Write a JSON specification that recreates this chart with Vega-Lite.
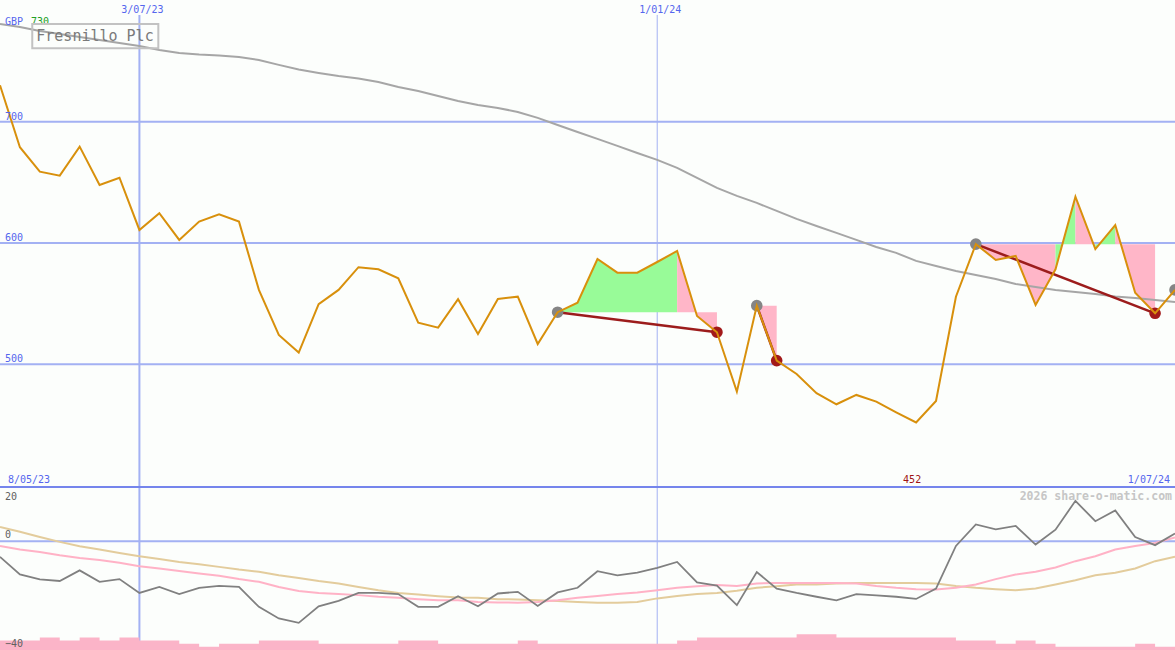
{
  "$schema": "https://vega.github.io/schema/vega-lite/v6.json",
  "background": "#fcfefc",
  "padding": 0,
  "spacing": 0,
  "bounds": "flush",
  "config": {"view": {"stroke": null}, "text": {"font": "DejaVu Sans Mono"}},
  "datasets": {
    "weeks": [
      {"week":0,"close":730,"ma":780.5,"osc":-5.7,"oscFast":-1.7,"oscSlow":5.3,"vol":3},
      {"week":1,"close":678.9,"ma":778.0,"osc":-12.2,"oscFast":-3.0,"oscSlow":3.5,"vol":3},
      {"week":2,"close":658.8,"ma":774.7,"osc":-14.0,"oscFast":-3.9,"oscSlow":1.6,"vol":4},
      {"week":3,"close":655.5,"ma":772.3,"osc":-14.6,"oscFast":-5.1,"oscSlow":-0.2,"vol":3},
      {"week":4,"close":679.4,"ma":769.8,"osc":-10.7,"oscFast":-6.1,"oscSlow":-1.8,"vol":4},
      {"week":5,"close":647.8,"ma":767.4,"osc":-14.9,"oscFast":-6.9,"oscSlow":-3.0,"vol":3},
      {"week":6,"close":653.8,"ma":764.9,"osc":-13.9,"oscFast":-7.9,"oscSlow":-4.3,"vol":4},
      {"week":7,"close":610.7,"ma":762.4,"osc":-19.0,"oscFast":-9.2,"oscSlow":-5.5,"vol":3},
      {"week":8,"close":624.5,"ma":759.1,"osc":-16.8,"oscFast":-10.0,"oscSlow":-6.5,"vol":3},
      {"week":9,"close":602.5,"ma":756.6,"osc":-19.4,"oscFast":-10.9,"oscSlow":-7.6,"vol":2},
      {"week":10,"close":617.6,"ma":755.4,"osc":-17.1,"oscFast":-11.8,"oscSlow":-8.4,"vol":1},
      {"week":11,"close":623.7,"ma":754.6,"osc":-16.4,"oscFast":-12.7,"oscSlow":-9.4,"vol":2},
      {"week":12,"close":617.6,"ma":753.3,"osc":-16.8,"oscFast":-13.9,"oscSlow":-10.4,"vol":2},
      {"week":13,"close":561.3,"ma":750.9,"osc":-24.1,"oscFast":-14.9,"oscSlow":-11.2,"vol":3},
      {"week":14,"close":524.2,"ma":746.8,"osc":-28.4,"oscFast":-16.8,"oscSlow":-12.5,"vol":3},
      {"week":15,"close":509.6,"ma":743.0,"osc":-30.0,"oscFast":-18.3,"oscSlow":-13.5,"vol":3},
      {"week":16,"close":549.5,"ma":740.2,"osc":-23.9,"oscFast":-19.0,"oscSlow":-14.6,"vol":2},
      {"week":17,"close":561.3,"ma":737.7,"osc":-21.9,"oscFast":-19.4,"oscSlow":-15.5,"vol":2},
      {"week":18,"close":580.0,"ma":735.6,"osc":-19.0,"oscFast":-19.8,"oscSlow":-16.8,"vol":2},
      {"week":19,"close":578.3,"ma":732.7,"osc":-19.0,"oscFast":-20.4,"oscSlow":-18.0,"vol":2},
      {"week":20,"close":570.9,"ma":728.6,"osc":-19.4,"oscFast":-20.8,"oscSlow":-19.0,"vol":3},
      {"week":21,"close":534.3,"ma":725.3,"osc":-24.1,"oscFast":-21.3,"oscSlow":-19.6,"vol":3},
      {"week":22,"close":530.2,"ma":721.2,"osc":-24.1,"oscFast":-21.7,"oscSlow":-20.2,"vol":2},
      {"week":23,"close":553.6,"ma":717.1,"osc":-20.2,"oscFast":-21.7,"oscSlow":-20.7,"vol":2},
      {"week":24,"close":525.0,"ma":713.8,"osc":-23.9,"oscFast":-22.3,"oscSlow":-20.8,"vol":2},
      {"week":25,"close":553.8,"ma":711.3,"osc":-19.2,"oscFast":-22.5,"oscSlow":-21.3,"vol":2},
      {"week":26,"close":555.7,"ma":708.0,"osc":-18.6,"oscFast":-22.6,"oscSlow":-21.4,"vol":3},
      {"week":27,"close":516.7,"ma":703.1,"osc":-23.8,"oscFast":-22.3,"oscSlow":-21.7,"vol":2},
      {"week":28,"close":542.9,"ma":697.3,"osc":-18.8,"oscFast":-21.7,"oscSlow":-22.0,"vol":2},
      {"week":29,"close":550.8,"ma":691.5,"osc":-17.1,"oscFast":-20.8,"oscSlow":-22.3,"vol":2},
      {"week":30,"close":586.8,"ma":685.8,"osc":-11.0,"oscFast":-20.1,"oscSlow":-22.6,"vol":2},
      {"week":31,"close":575.5,"ma":680.0,"osc":-12.5,"oscFast":-19.4,"oscSlow":-22.6,"vol":2},
      {"week":32,"close":575.5,"ma":674.2,"osc":-11.5,"oscFast":-18.8,"oscSlow":-22.3,"vol":2},
      {"week":33,"close":584.3,"ma":668.5,"osc":-9.8,"oscFast":-18.0,"oscSlow":-21.0,"vol":2},
      {"week":34,"close":593.4,"ma":661.9,"osc":-7.6,"oscFast":-17.1,"oscSlow":-20.1,"vol":3},
      {"week":35,"close":539.8,"ma":653.6,"osc":-15.1,"oscFast":-16.5,"oscSlow":-19.4,"vol":4},
      {"week":36,"close":526.4,"ma":645.4,"osc":-16.3,"oscFast":-16.1,"oscSlow":-19.0,"vol":4},
      {"week":37,"close":477.4,"ma":638.8,"osc":-23.5,"oscFast":-16.4,"oscSlow":-18.2,"vol":4},
      {"week":38,"close":548.3,"ma":633.0,"osc":-11.3,"oscFast":-15.5,"oscSlow":-17.1,"vol":4},
      {"week":39,"close":503.0,"ma":626.4,"osc":-17.4,"oscFast":-15.3,"oscSlow":-16.5,"vol":4},
      {"week":40,"close":492.0,"ma":619.8,"osc":-19.0,"oscFast":-15.3,"oscSlow":-15.9,"vol":5},
      {"week":41,"close":476.1,"ma":614.0,"osc":-20.4,"oscFast":-15.3,"oscSlow":-15.9,"vol":5},
      {"week":42,"close":467.0,"ma":608.3,"osc":-21.7,"oscFast":-15.3,"oscSlow":-15.5,"vol":4},
      {"week":43,"close":474.7,"ma":602.5,"osc":-19.4,"oscFast":-15.5,"oscSlow":-15.3,"vol":4},
      {"week":44,"close":469.2,"ma":596.7,"osc":-19.9,"oscFast":-16.4,"oscSlow":-15.3,"vol":4},
      {"week":45,"close":460.4,"ma":591.8,"osc":-20.4,"oscFast":-17.1,"oscSlow":-15.3,"vol":4},
      {"week":46,"close":452.0,"ma":585.2,"osc":-21.2,"oscFast":-17.6,"oscSlow":-15.3,"vol":4},
      {"week":47,"close":469.7,"ma":581.0,"osc":-17.4,"oscFast":-17.7,"oscSlow":-15.5,"vol":4},
      {"week":48,"close":555.7,"ma":576.9,"osc":-1.7,"oscFast":-17.1,"oscSlow":-16.4,"vol":3},
      {"week":49,"close":599.0,"ma":573.6,"osc":6.2,"oscFast":-15.9,"oscSlow":-17.1,"vol":3},
      {"week":50,"close":586.0,"ma":570.3,"osc":4.4,"oscFast":-13.9,"oscSlow":-17.6,"vol":2},
      {"week":51,"close":589.3,"ma":566.2,"osc":5.7,"oscFast":-12.2,"oscSlow":-18.0,"vol":3},
      {"week":52,"close":548.9,"ma":563.7,"osc":-1.2,"oscFast":-11.2,"oscSlow":-17.4,"vol":2},
      {"week":53,"close":578.3,"ma":561.3,"osc":4.3,"oscFast":-9.6,"oscSlow":-15.9,"vol":1},
      {"week":54,"close":638.2,"ma":559.6,"osc":14.9,"oscFast":-7.3,"oscSlow":-14.3,"vol":1},
      {"week":55,"close":595.0,"ma":558.0,"osc":7.4,"oscFast":-5.5,"oscSlow":-12.5,"vol":1},
      {"week":56,"close":614.8,"ma":555.9,"osc":11.4,"oscFast":-3.0,"oscSlow":-11.6,"vol":1},
      {"week":57,"close":559.0,"ma":554.7,"osc":1.6,"oscFast":-1.7,"oscSlow":-10.0,"vol":2},
      {"week":58,"close":542.0,"ma":553.0,"osc":-1.4,"oscFast":-0.6,"oscSlow":-7.3,"vol":1},
      {"week":59,"close":561.3,"ma":551.4,"osc":2.9,"oscFast":1.4,"oscSlow":-5.7,"vol":1}
    ],
    "priceGrid": [{"level":500},{"level":600},{"level":700}],
    "dateMarks": [{"week":7,"label":"3/07/23","kind":"half"},{"week":33,"label":"1/01/24","kind":"year"}],
    "fills": [
      {"grp":"t1a","kind":"gain","week":28,"close":542.9,"entry":542.9},
      {"grp":"t1a","kind":"gain","week":29,"close":550.8,"entry":542.9},
      {"grp":"t1a","kind":"gain","week":30,"close":586.8,"entry":542.9},
      {"grp":"t1a","kind":"gain","week":31,"close":575.5,"entry":542.9},
      {"grp":"t1a","kind":"gain","week":32,"close":575.5,"entry":542.9},
      {"grp":"t1a","kind":"gain","week":33,"close":584.3,"entry":542.9},
      {"grp":"t1a","kind":"gain","week":34,"close":593.4,"entry":542.9},
      {"grp":"t1b","kind":"loss","week":34,"close":593.4,"entry":542.9},
      {"grp":"t1b","kind":"loss","week":35,"close":539.8,"entry":542.9},
      {"grp":"t1b","kind":"loss","week":36,"close":526.4,"entry":542.9},
      {"grp":"t2a","kind":"loss","week":38,"close":548.3,"entry":548.3},
      {"grp":"t2a","kind":"loss","week":39,"close":503.0,"entry":548.3},
      {"grp":"t3a","kind":"loss","week":49,"close":599.0,"entry":599},
      {"grp":"t3a","kind":"loss","week":50,"close":586.0,"entry":599},
      {"grp":"t3a","kind":"loss","week":51,"close":589.3,"entry":599},
      {"grp":"t3a","kind":"loss","week":52,"close":548.9,"entry":599},
      {"grp":"t3a","kind":"loss","week":53,"close":578.3,"entry":599},
      {"grp":"t3b","kind":"gain","week":53,"close":578.3,"entry":599},
      {"grp":"t3b","kind":"gain","week":54,"close":638.2,"entry":599},
      {"grp":"t3c","kind":"loss","week":54,"close":638.2,"entry":599},
      {"grp":"t3c","kind":"loss","week":55,"close":595.0,"entry":599},
      {"grp":"t3d","kind":"gain","week":55,"close":595.0,"entry":599},
      {"grp":"t3d","kind":"gain","week":56,"close":614.8,"entry":599},
      {"grp":"t3e","kind":"loss","week":56,"close":614.8,"entry":599},
      {"grp":"t3e","kind":"loss","week":57,"close":559.0,"entry":599},
      {"grp":"t3e","kind":"loss","week":58,"close":542.0,"entry":599}
    ],
    "signals": [
      {"trade":1,"week":28,"price":542.9,"side":"buy"},
      {"trade":1,"week":36,"price":526.4,"side":"sell"},
      {"trade":2,"week":38,"price":548.3,"side":"buy"},
      {"trade":2,"week":39,"price":503.0,"side":"sell"},
      {"trade":3,"week":49,"price":599.0,"side":"buy"},
      {"trade":3,"week":58,"price":542.0,"side":"sell"},
      {"trade":4,"week":59,"price":561.3,"side":"buy"}
    ],
    "oscGrid": [{"level":0},{"level":-40}],
    "priceNotes": [
      {"note":"from","text":"8/05/23"},
      {"note":"low","text":"452"},
      {"note":"to","text":"1/07/24"},
      {"note":"ccy","text":"GBP"},
      {"note":"high","text":"730"},
      {"note":"name","text":"Fresnillo Plc"}
    ]
  },
  "vconcat": [
    {
      "width": 1175,
      "height": 487,
      "resolve": {"scale": {"color": "independent"}},
      "layer": [
        {
          "data": {"name": "priceGrid"},
          "mark": {"type": "rule", "color": "#a3b1f3", "strokeWidth": 2, "clip": true},
          "encoding": {
            "y": {"field": "level", "type": "quantitative", "scale": {"domain": [398.8, 800.3], "nice": false, "zero": false}, "axis": null}
          }
        },
        {
          "data": {"name": "dateMarks"},
          "mark": {"type": "rule", "color": "#a3b1f3", "clip": true},
          "encoding": {
            "x": {"field": "week", "type": "quantitative", "scale": {"domain": [0, 59], "nice": false, "zero": false}, "axis": null},
            "y": {"datum": 788, "type": "quantitative", "axis": null},
            "y2": {"datum": 398.8},
            "strokeWidth": {"field": "kind", "type": "nominal", "scale": {"domain": ["half", "year"], "range": [2, 1]}, "legend": null}
          }
        },
        {
          "data": {"name": "fills"},
          "mark": {"type": "area", "opacity": 1, "clip": true},
          "encoding": {
            "x": {"field": "week", "type": "quantitative", "axis": null},
            "y": {"field": "close", "type": "quantitative", "stack": null, "axis": null},
            "y2": {"field": "entry"},
            "color": {"field": "kind", "type": "nominal", "scale": {"domain": ["gain", "loss"], "range": ["#98fb98", "#ffb6c8"]}, "legend": null},
            "detail": {"field": "grp"}
          }
        },
        {
          "data": {"name": "weeks"},
          "mark": {"type": "line", "color": "#a6a6a6", "strokeWidth": 2, "clip": true},
          "encoding": {
            "x": {"field": "week", "type": "quantitative", "axis": null},
            "y": {"field": "ma", "type": "quantitative", "axis": null}
          }
        },
        {
          "data": {"name": "signals"},
          "mark": {"type": "line", "color": "#9c1c1c", "strokeWidth": 2.5, "clip": true},
          "encoding": {
            "x": {"field": "week", "type": "quantitative", "axis": null},
            "y": {"field": "price", "type": "quantitative", "axis": null},
            "detail": {"field": "trade"}
          }
        },
        {
          "data": {"name": "signals"},
          "mark": {"type": "circle", "size": 135, "opacity": 1, "clip": true},
          "encoding": {
            "x": {"field": "week", "type": "quantitative", "axis": null},
            "y": {"field": "price", "type": "quantitative", "axis": null},
            "color": {"field": "side", "type": "nominal", "scale": {"domain": ["buy", "sell"], "range": ["#858585", "#a21a1a"]}, "legend": null}
          }
        },
        {
          "data": {"name": "weeks"},
          "mark": {"type": "line", "color": "#d8900c", "strokeWidth": 2, "clip": true},
          "encoding": {
            "x": {"field": "week", "type": "quantitative", "axis": null},
            "y": {"field": "close", "type": "quantitative", "axis": null}
          }
        },
        {
          "data": {"name": "priceGrid"},
          "mark": {"type": "text", "align": "left", "baseline": "alphabetic", "dx": 5, "dy": -2, "fontSize": 10, "color": "#5566ee", "clip": true},
          "encoding": {
            "x": {"datum": 0, "type": "quantitative", "axis": null},
            "y": {"field": "level", "type": "quantitative", "axis": null},
            "text": {"field": "level", "type": "quantitative"}
          }
        },
        {
          "data": {"name": "dateMarks"},
          "mark": {"type": "text", "align": "center", "baseline": "alphabetic", "dx": 3, "dy": 13, "fontSize": 10, "color": "#5566ee", "clip": true},
          "encoding": {
            "x": {"field": "week", "type": "quantitative", "axis": null},
            "y": {"datum": 800.3, "type": "quantitative", "axis": null},
            "text": {"field": "label"}
          }
        },
        {
          "data": {"name": "priceNotes"},
          "transform": [{"filter": "datum.note == 'from'"}],
          "mark": {"type": "text", "align": "left", "baseline": "alphabetic", "dx": 8, "dy": -4, "fontSize": 10, "color": "#5566ee", "clip": true},
          "encoding": {
            "x": {"datum": 0, "type": "quantitative", "axis": null},
            "y": {"datum": 398.8, "type": "quantitative", "axis": null},
            "text": {"field": "text"}
          }
        },
        {
          "data": {"name": "priceNotes"},
          "transform": [{"filter": "datum.note == 'low'"}],
          "mark": {"type": "text", "align": "center", "baseline": "alphabetic", "dy": -4, "fontSize": 10, "color": "#a01414", "clip": true},
          "encoding": {
            "x": {"datum": 45.8, "type": "quantitative", "axis": null},
            "y": {"datum": 398.8, "type": "quantitative", "axis": null},
            "text": {"field": "text"}
          }
        },
        {
          "data": {"name": "priceNotes"},
          "transform": [{"filter": "datum.note == 'to'"}],
          "mark": {"type": "text", "align": "right", "baseline": "alphabetic", "dx": -5, "dy": -4, "fontSize": 10, "color": "#5566ee", "clip": true},
          "encoding": {
            "x": {"datum": 59, "type": "quantitative", "axis": null},
            "y": {"datum": 398.8, "type": "quantitative", "axis": null},
            "text": {"field": "text"}
          }
        },
        {
          "data": {"name": "priceNotes"},
          "transform": [{"filter": "datum.note == 'ccy'"}],
          "mark": {"type": "text", "align": "left", "baseline": "alphabetic", "dx": 5, "dy": 25, "fontSize": 10, "color": "#5566ee", "clip": true},
          "encoding": {
            "x": {"datum": 0, "type": "quantitative", "axis": null},
            "y": {"datum": 800.3, "type": "quantitative", "axis": null},
            "text": {"field": "text"}
          }
        },
        {
          "data": {"name": "priceNotes"},
          "transform": [{"filter": "datum.note == 'high'"}],
          "mark": {"type": "text", "align": "left", "baseline": "alphabetic", "dx": 31, "dy": 25, "fontSize": 10, "color": "#22a022", "clip": true},
          "encoding": {
            "x": {"datum": 0, "type": "quantitative", "axis": null},
            "y": {"datum": 800.3, "type": "quantitative", "axis": null},
            "text": {"field": "text"}
          }
        },
        {
          "data": {"name": "priceNotes"},
          "transform": [{"filter": "datum.note == 'name'"}],
          "mark": {"type": "rect", "fillOpacity": 0, "stroke": "#c2c2c2", "strokeWidth": 2, "clip": true},
          "encoding": {
            "x": {"datum": 1.62, "type": "quantitative", "axis": null},
            "x2": {"datum": 7.95},
            "y": {"datum": 780.5, "type": "quantitative", "axis": null},
            "y2": {"datum": 760.5}
          }
        },
        {
          "data": {"name": "priceNotes"},
          "transform": [{"filter": "datum.note == 'name'"}],
          "mark": {"type": "text", "align": "left", "baseline": "alphabetic", "dx": 4, "dy": 17, "fontSize": 15, "color": "#7a7a7a", "clip": true},
          "encoding": {
            "x": {"datum": 1.62, "type": "quantitative", "axis": null},
            "y": {"datum": 780.5, "type": "quantitative", "axis": null},
            "text": {"field": "text"}
          }
        },
        {
          "data": {"name": "priceNotes"},
          "transform": [{"filter": "datum.note == 'name'"}],
          "mark": {"type": "rule", "color": "#7585ec", "strokeWidth": 2, "clip": true},
          "encoding": {"y": {"datum": 398.8, "type": "quantitative", "axis": null}}
        }
      ]
    },
    {
      "width": 1175,
      "height": 163,
      "resolve": {"scale": {"y": "independent"}},
      "layer": [
        {
          "layer": [
            {
              "data": {"name": "oscGrid"},
              "transform": [{"filter": "datum.level == 0"}],
              "mark": {"type": "rule", "color": "#a3b1f3", "strokeWidth": 2, "clip": true},
              "encoding": {
                "y": {"field": "level", "type": "quantitative", "scale": {"domain": [-40, 20], "nice": false, "zero": false}, "axis": null}
              }
            },
            {
              "data": {"name": "dateMarks"},
              "mark": {"type": "rule", "color": "#a3b1f3", "clip": true},
              "encoding": {
                "x": {"field": "week", "type": "quantitative", "scale": {"domain": [0, 59], "nice": false, "zero": false}, "axis": null},
                "y": {"datum": 20, "type": "quantitative", "axis": null},
                "y2": {"datum": -40},
                "strokeWidth": {"field": "kind", "type": "nominal", "scale": {"domain": ["half", "year"], "range": [2, 1]}, "legend": null}
              }
            },
            {
              "data": {"name": "oscGrid"},
              "transform": [{"filter": "datum.level == 0"}],
              "mark": {"type": "rule", "color": "#7585ec", "strokeWidth": 2, "clip": true},
              "encoding": {"y": {"datum": 20, "type": "quantitative", "axis": null}}
            },
            {
              "data": {"name": "weeks"},
              "mark": {"type": "line", "color": "#e3cc9c", "strokeWidth": 2, "clip": true},
              "encoding": {
                "x": {"field": "week", "type": "quantitative", "axis": null},
                "y": {"field": "oscSlow", "type": "quantitative", "axis": null}
              }
            },
            {
              "data": {"name": "weeks"},
              "mark": {"type": "line", "color": "#ffb2c6", "strokeWidth": 2, "clip": true},
              "encoding": {
                "x": {"field": "week", "type": "quantitative", "axis": null},
                "y": {"field": "oscFast", "type": "quantitative", "axis": null}
              }
            },
            {
              "data": {"name": "weeks"},
              "mark": {"type": "line", "color": "#808080", "strokeWidth": 1.8, "clip": true},
              "encoding": {
                "x": {"field": "week", "type": "quantitative", "axis": null},
                "y": {"field": "osc", "type": "quantitative", "axis": null}
              }
            }
          ]
        },
        {
          "data": {"name": "weeks"},
          "mark": {"type": "area", "interpolate": "step-after", "color": "#fbb4c8", "opacity": 1, "clip": true},
          "encoding": {
            "x": {"field": "week", "type": "quantitative", "axis": null},
            "y": {"field": "vol", "type": "quantitative", "scale": {"domain": [0, 52], "nice": false}, "axis": null}
          }
        },
        {
          "layer": [
            {
              "data": {"name": "oscGrid"},
              "mark": {"type": "text", "align": "left", "baseline": "alphabetic", "dx": 5, "dy": -3, "fontSize": 10, "color": "#606060", "clip": true},
              "encoding": {
                "x": {"datum": 0, "type": "quantitative", "axis": null},
                "y": {"field": "level", "type": "quantitative", "scale": {"domain": [-40, 20], "nice": false, "zero": false}, "axis": null},
                "text": {"field": "level", "type": "quantitative"}
              }
            },
            {
              "data": {"name": "oscGrid"},
              "transform": [{"filter": "datum.level == 0"}],
              "mark": {"type": "text", "align": "left", "baseline": "alphabetic", "dx": 5, "dy": 13, "fontSize": 10, "color": "#606060", "clip": true},
              "encoding": {
                "x": {"datum": 0, "type": "quantitative", "axis": null},
                "y": {"datum": 20, "type": "quantitative", "axis": null},
                "text": {"datum": 20}
              }
            },
            {
              "data": {"name": "oscGrid"},
              "transform": [{"filter": "datum.level == 0"}],
              "mark": {"type": "text", "align": "right", "baseline": "alphabetic", "dx": -3, "dy": 13, "fontSize": 11.5, "fontWeight": "bold", "color": "#c6c6c6", "clip": true, "text": "2026 share-o-matic.com"},
              "encoding": {
                "x": {"datum": 59, "type": "quantitative", "axis": null},
                "y": {"datum": 20, "type": "quantitative", "axis": null}
              }
            }
          ]
        }
      ]
    }
  ]
}
